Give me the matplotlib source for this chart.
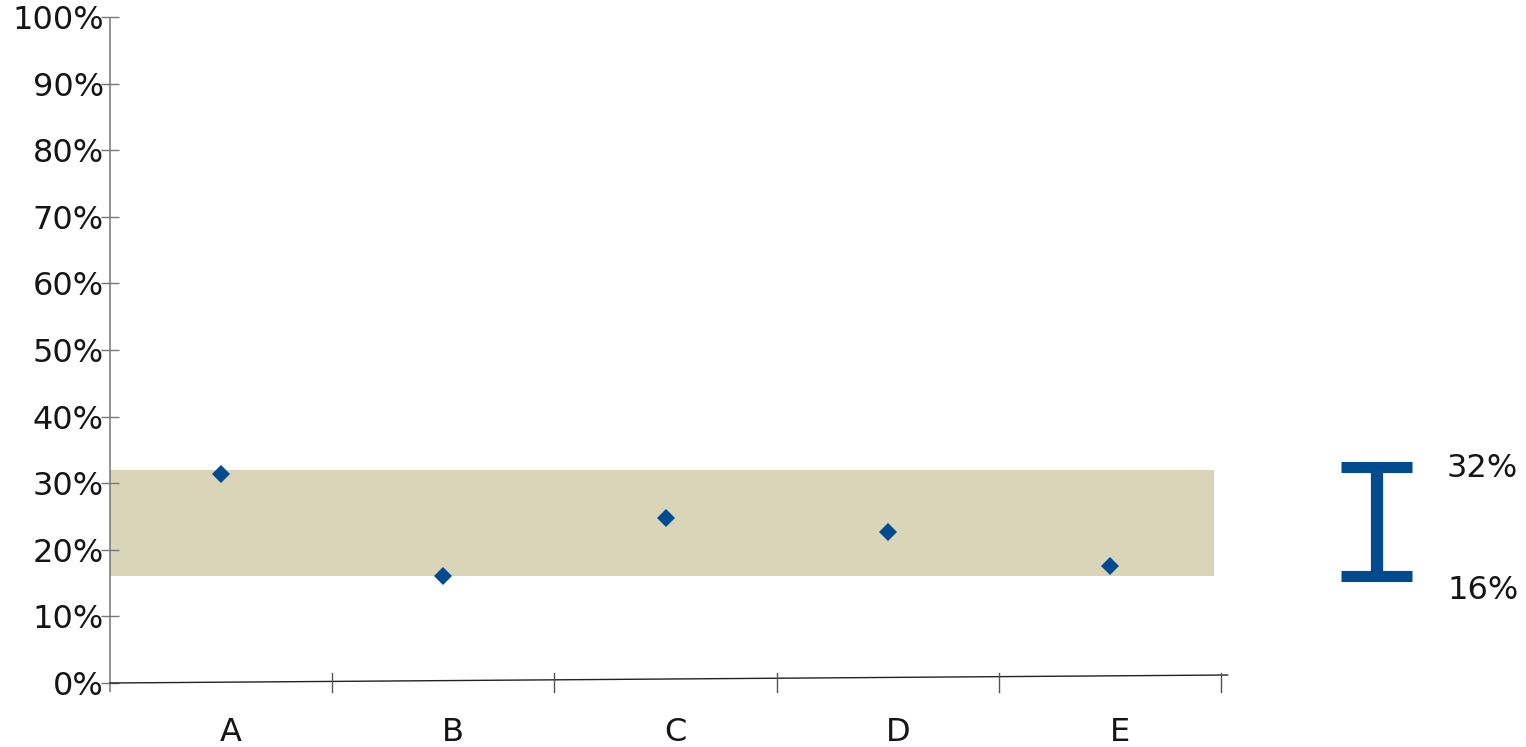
import matplotlib
matplotlib.use("Agg")
import matplotlib.pyplot as plt
from matplotlib.transforms import ScaledTranslation
from matplotlib.patches import Rectangle

# Data
categories = ["A", "B", "C", "D", "E"]
values = [31.4, 16.1, 24.7, 22.6, 17.6]
range_low = 16
range_high = 32
range_labels = ["32%", "16%"]
y_ticks = [0, 10, 20, 30, 40, 50, 60, 70, 80, 90, 100]
y_tick_labels = [f"{t}%" for t in y_ticks]

BLUE = "#004A8F"
BAND = "#DAD5B9"
TEXT = "#151515"
FONT_SIZE = 23

plt.rcParams["font.family"] = ["DejaVu Sans"]

W, H, DPI = 1526, 747, 100
fig = plt.figure(figsize=(W / DPI, H / DPI), dpi=DPI)

# main plotting area in pixel coordinates
left, right, top, bottom = 110, 1221, 17, 683
ax = fig.add_axes([left / W, (H - bottom) / H, (right - left) / W, (bottom - top) / H])
ax.set_xlim(-0.5, len(categories) - 0.5)
ax.set_ylim(0, 100)
for s in ax.spines.values():
    s.set_visible(False)
ax.patch.set_visible(False)

# shaded range band
ax.add_patch(Rectangle((-0.5, range_low), 4.97, range_high - range_low,
                       facecolor=BAND, edgecolor="none", zorder=1))

# data points
x = list(range(len(categories)))
ax.plot(x, values, linestyle="none", marker="D", markersize=9.3,
        color=BLUE, markeredgewidth=0, zorder=3)

# y axis: line and crossing ticks
ax.plot([-0.5, -0.5], [-1.35, 100], color="#777777", lw=1.1,
        clip_on=False, zorder=2, solid_capstyle="butt")
ax.set_yticks(y_ticks)
ax.set_yticklabels(y_tick_labels, fontsize=FONT_SIZE, color=TEXT)
ax.tick_params(axis="y", direction="inout", length=13, width=1.0,
               color="#777777", pad=-2)
ax.set_xticks([])

# x axis line and ticks
ax.plot([-0.5, 4.53], [0, 1.2], color="#222222", lw=1.0, clip_on=False, zorder=2)
for xt in [0.5, 1.5, 2.5, 3.5, 4.5]:
    ax.plot([xt, xt], [-1.35, 1.5], color="#555555", lw=1.0, clip_on=False, zorder=2)

# category labels, baseline placed below the axis
label_off = ax.transData + ScaledTranslation(10 / DPI, -58 / DPI, fig.dpi_scale_trans)
for i, c in enumerate(categories):
    ax.text(i, 0, c, transform=label_off, ha="center", va="baseline",
            fontsize=FONT_SIZE, color=TEXT)

# range marker on the right, sharing the vertical scale
ax2 = fig.add_axes([1330 / W, (H - bottom) / H, 196 / W, (bottom - top) / H])
ax2.set_xlim(0, 196)
ax2.set_ylim(0, 100)
ax2.axis("off")
ax2.plot([47, 47], [range_low, range_high], color=BLUE, lw=8.8, solid_capstyle="butt")
bar_top = ax2.transData + ScaledTranslation(0, 2.5 / DPI, fig.dpi_scale_trans)
ax2.plot([11, 82], [range_high, range_high], color=BLUE, lw=8.0,
         solid_capstyle="butt", transform=bar_top)
ax2.plot([11, 82], [range_low, range_low], color=BLUE, lw=8.0, solid_capstyle="butt")
ax2.text(117, range_high, range_labels[0], fontsize=FONT_SIZE, va="center", ha="left",
         color=TEXT,
         transform=ax2.transData + ScaledTranslation(0, 1 / DPI, fig.dpi_scale_trans))
ax2.text(117, range_low, range_labels[1], fontsize=FONT_SIZE, va="center", ha="left",
         color=TEXT,
         transform=ax2.transData + ScaledTranslation(0, -14 / DPI, fig.dpi_scale_trans))

fig.savefig("out.png", dpi=DPI)
